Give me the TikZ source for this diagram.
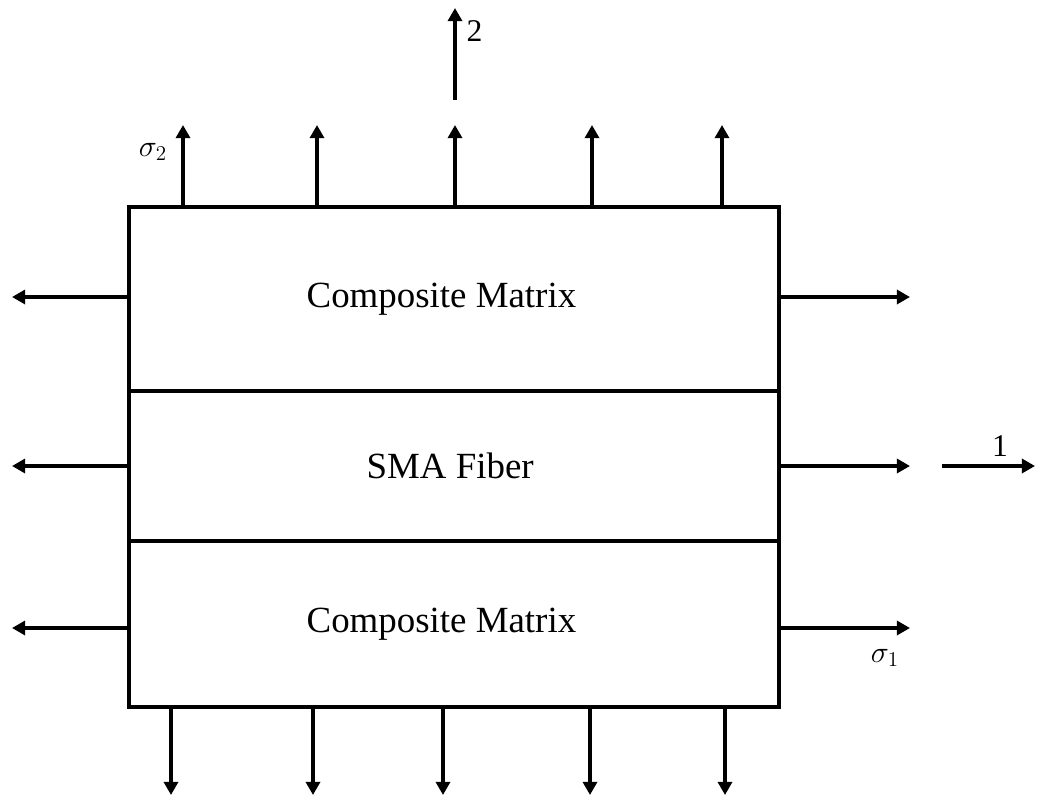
\documentclass[tikz,border=0pt]{standalone}
\usepackage{fontspec}
\setmainfont{Liberation Serif}
\usetikzlibrary{arrows.meta,positioning}

\begin{document}
\begin{tikzpicture}[x=0.02cm,y=-0.02cm,line width=2pt,font=\fontsize{21}{25}\selectfont,
    layer/.style={draw,minimum width=13cm,inner sep=0pt,outer sep=0pt},
    force/.style={-{Triangle[length=7.5pt,width=8pt]}},
    tag/.style={font=\fontsize{18}{21}\selectfont,inner sep=1pt}]
        \useasboundingbox (0,0) rectangle (1041,801);

        % the three layers
        \node[layer,minimum height=3.68cm,anchor=north west] (mtop) at (129,207) {Composite Matrix\kern.5cm};
        \node[layer,minimum height=3cm,below=0pt of mtop] (fiber) {SMA Fiber\kern.15cm};
        \node[layer,minimum height=3.32cm,below=0pt of fiber] (mbot) {Composite Matrix\kern.5cm};

        % stresses
        \foreach \x [count=\i] in {183,317,455,592,722} {
          \coordinate (up\i) at (\x,125);
          \draw[force] (up\i |- mtop.north) -- (up\i);
        }
        \foreach \x [count=\i] in {171,313,443,590,725} {
          \coordinate (dn\i) at (\x,795);
          \draw[force] (dn\i |- mbot.south) -- (dn\i);
        }
        \foreach \y/\n [count=\i] in {297/mtop,466/fiber,628/mbot} {
          \coordinate (lf\i) at (12,\y);
          \coordinate (rt\i) at (910,\y);
          \draw[force] (lf\i -| \n.west) -- (lf\i);
          \draw[force] (rt\i -| \n.east) -- (rt\i);
        }
        \node[tag] (sig2) at (153,152) {$\sigma_2$};
        \node[tag] (sig1) at (885,658) {$\sigma_1$};

        % axes
        \coordinate (ax2s) at (455,100);
        \coordinate (ax2e) at (455,8);
        \draw[force] (ax2s) -- (ax2e);
        \node[tag,anchor=west] (lab2) at (463,31) {2};
        \coordinate (ax1s) at (942,466);
        \coordinate (ax1e) at (1035,466);
        \draw[force] (ax1s) -- (ax1e);
        \node[tag] (lab1) at (1000,446) {1};
\end{tikzpicture}
\end{document}
